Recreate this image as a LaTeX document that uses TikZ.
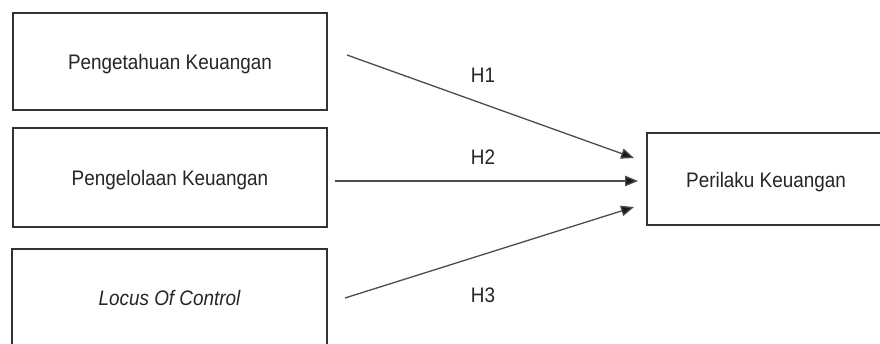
\documentclass[tikz,border=0pt]{standalone}
\usepackage{fontspec}
\setmainfont[FakeStretch=0.9]{Liberation Sans}
\usetikzlibrary{arrows.meta}
\begin{document}
\begin{tikzpicture}[x=1pt,y=-1pt,
  box/.style={draw=black!80,line width=1.8pt,rectangle,inner sep=0pt,font=\fontsize{21}{24}\selectfont,text=black!85,text height=21pt,text depth=4.5pt},
  conn/.style={draw=black!70,line width=1.3pt,-{Triangle[length=13pt,width=10.5pt,fill=black!90]}},
  hlab/.style={font=\fontsize{21}{24}\selectfont,text=black!85,inner sep=0pt}]
\useasboundingbox (0,0) rectangle (880,343);
\fill[white] (0,0) rectangle (880,343);
\node[box,minimum width=314pt,minimum height=97pt] (b1) at (170,61.5) {Pengetahuan Keuangan};
\node[box,minimum width=314pt,minimum height=99pt] (b2) at (170,177.5) {Pengelolaan Keuangan};
\node[box,minimum width=315pt,minimum height=96pt] (b3) at (169.5,297) {\itshape Locus Of Control};
\node[box,minimum width=238pt,minimum height=92pt] (r) at (766,179) {Perilaku Keuangan};
\coordinate (s1) at (347,55);
\coordinate (e1) at (634,158);
\coordinate (s2) at (335,181);
\coordinate (e2) at (638,181);
\coordinate (s3) at (345,298);
\coordinate (e3) at (634,207);
\draw[conn] (s1) -- (e1);
\draw[conn] (s2) -- (e2);
\draw[conn] (s3) -- (e3);
\node[hlab] (h1) at (483,75) {H1};
\node[hlab] (h2) at (483,157) {H2};
\node[hlab] (h3) at (483,295) {H3};
\end{tikzpicture}
\end{document}
